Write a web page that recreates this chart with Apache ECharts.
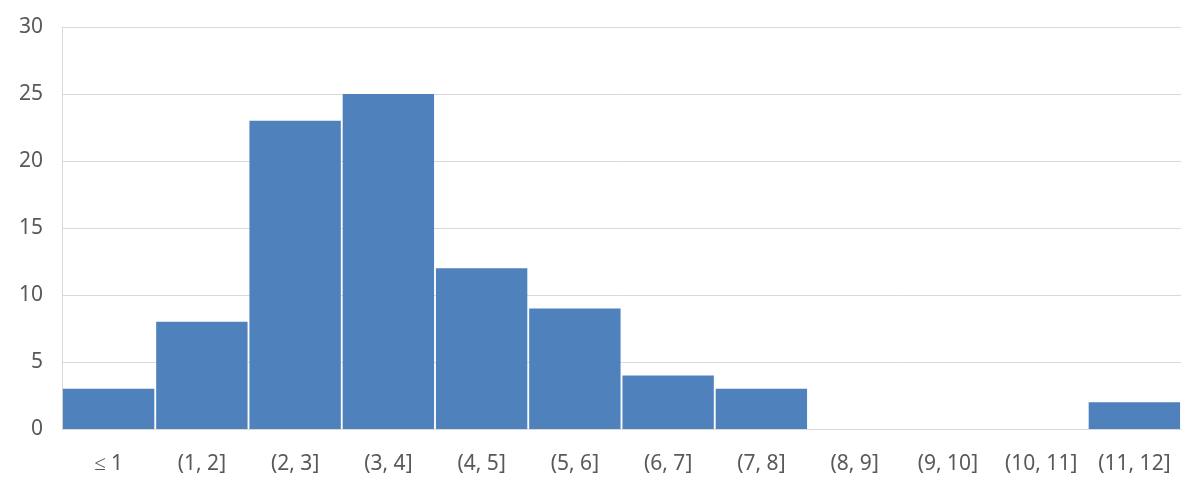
<!DOCTYPE html>
<html>
<head>
<meta charset="utf-8">
<script src="https://cdn.jsdelivr.net/npm/echarts@6/dist/echarts.min.js"></script>
<style>html,body{margin:0;padding:0;background:#fff}#c{width:1200px;height:495px}</style>
</head>
<body>
<div id="c"></div>
<script>
const categories = ['≤ 1', '(1, 2]', '(2, 3]', '(3, 4]', '(4, 5]', '(5, 6]', '(6, 7]', '(7, 8]', '(8, 9]', '(9, 10]', '(10, 11]', '(11, 12]'];
const values = [3, 8, 23, 25, 12, 9, 4, 3, 0, 0, 0, 2];
const yTicks = [0, 5, 10, 15, 20, 25, 30];

const chart = echarts.init(document.getElementById('c'));
chart.setOption({
  animation: false,
  grid: { left: 62, right: 19, top: 27, bottom: 66, containLabel: false },
  xAxis: {
    type: 'category',
    data: categories,
    axisLine: { show: true, lineStyle: { color: '#d9d9d9', width: 1 } },
    axisTick: { show: false },
    axisLabel: { color: '#595959', fontSize: 21, fontFamily: 'Noto Sans', margin: 25, interval: 0 }
  },
  yAxis: {
    type: 'value',
    min: yTicks[0],
    max: yTicks[yTicks.length - 1],
    interval: 5,
    axisLine: { show: true, lineStyle: { color: '#d9d9d9', width: 1 } },
    axisTick: { show: false },
    splitLine: { show: true, lineStyle: { color: '#d9d9d9', width: 1 } },
    axisLabel: { color: '#595959', fontSize: 21, fontFamily: 'Noto Sans', margin: 19 }
  },
  series: [{
    type: 'bar',
    data: values,
    barCategoryGap: '2%',
    itemStyle: { color: '#4f81bd' }
  }]
});
</script>
</body>
</html>
